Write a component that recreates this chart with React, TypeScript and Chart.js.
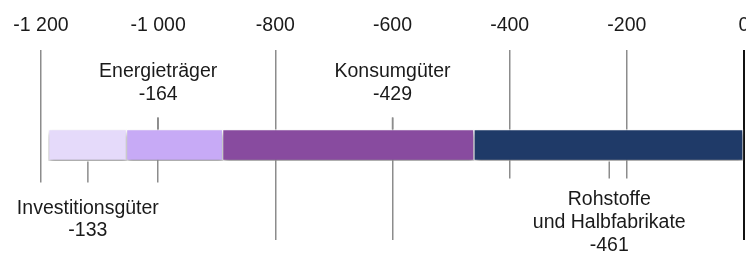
import React, { useEffect, useRef } from "react";
import { Chart, registerables } from "chart.js";

Chart.register(...registerables);

const categories = ["Import"];
const seriesNames = ["Rohstoffe|und Halbfabrikate", "Konsumgüter", "Energieträger", "Investitionsgüter"];
const seriesValues = [-461, -429, -164, -133];
const seriesColors = ["#1F3A68", "#884B9F", "#C7AAF6", "#E5DAFA"];
const labelAnchors = [-230, -600, -1000, -1120];
const labelSides = ["below", "above", "above", "below"];
const axisMin = -1200;
const axisMax = 0;
const axisStep = 200;

const FONT = "'Liberation Sans', Arial, Helvetica, sans-serif";
const FONT_SIZE = 19.5;

function fmt(v: number): string {
  const s = Math.abs(v).toString().replace(/\B(?=(\d{3})+(?!\d))/g, " ");
  return (v < 0 ? "-" : "") + s;
}

const shadowPlugin = {
  id: "barShadow",
  beforeDatasetsDraw(chart: any) {
    const ctx = chart.ctx;
    ctx.save();
    ctx.shadowColor = "rgba(0,0,0,0.45)";
    ctx.shadowBlur = 5;
    ctx.shadowOffsetX = 1;
    ctx.shadowOffsetY = 4;
  },
  afterDatasetsDraw(chart: any) {
    chart.ctx.restore();
  },
};

const labelPlugin = {
  id: "segLabels",
  afterDraw(chart: any) {
    const ctx = chart.ctx;
    const xs = chart.scales.x;
    const area = chart.chartArea;
    ctx.save();
    ctx.font = `${FONT_SIZE}px ${FONT}`;
    ctx.textAlign = "center";
    ctx.textBaseline = "middle";
    const lh = 23;
    seriesNames.forEach((name, i) => {
      const el = chart.getDatasetMeta(i).data[0];
      if (!el) return;
      const top = el.y - el.height / 2;
      const bottom = el.y + el.height / 2;
      const lines = name.split("|").concat([fmt(seriesValues[i])]);
      const cx = xs.getPixelForValue(labelAnchors[i]);
      const w = Math.max(...lines.map((l) => ctx.measureText(l).width)) + 56;
      const above = labelSides[i] === "above";
      ctx.fillStyle = "#ffffff";
      let boxTop: number, boxBottom: number, firstY: number, leadFrom: number, leadTo: number;
      if (above) {
        boxTop = area.top - 2;
        boxBottom = top - 12;
        firstY = top - 35 - (lines.length - 1) * lh;
        leadFrom = boxBottom;
        leadTo = top;
      } else {
        const gap = lines.length > 2 ? 18 : 22;
        boxTop = bottom + gap;
        boxBottom = area.bottom + 2;
        firstY = lines.length > 2 ? bottom + 39 : bottom + 48;
        leadFrom = bottom + 1;
        leadTo = boxTop;
      }
      ctx.fillRect(cx - w / 2, boxTop, w, boxBottom - boxTop);
      ctx.strokeStyle = "#8c8c8c";
      ctx.lineWidth = 1.5;
      ctx.beginPath();
      ctx.moveTo(cx, leadFrom);
      ctx.lineTo(cx, leadTo);
      ctx.stroke();
      ctx.fillStyle = "#1a1a1a";
      const step = above ? lh : lines.length > 2 ? lh : 22;
      lines.forEach((l, k) => ctx.fillText(l, cx, firstY + k * step));
    });
    ctx.restore();
  },
};

export default function App() {
  const ref = useRef<HTMLCanvasElement | null>(null);
  useEffect(() => {
    if (!ref.current) return;
    const chart = new Chart(ref.current, {
      type: "bar",
      data: {
        labels: categories,
        datasets: seriesNames.map((n, i) => ({
          label: n.replace("|", " "),
          data: [seriesValues[i]],
          backgroundColor: seriesColors[i],
          borderColor: "rgba(255,255,255,0.95)",
          borderWidth: { left: 1, right: 1, top: 1, bottom: 1 },
          borderSkipped: false,
          barThickness: 31,
        })),
      },
      options: {
        indexAxis: "y",
        animation: false,
        responsive: true,
        maintainAspectRatio: false,
        layout: { padding: { top: 0, bottom: 13, left: 41, right: 2 } },
        plugins: { legend: { display: false }, tooltip: { enabled: false } },
        scales: {
          x: {
            position: "top",
            stacked: true,
            min: axisMin,
            max: axisMax,
            border: { display: false },
            grid: {
              drawTicks: false,
              color: (c: any) => (c.tick && c.tick.value === 0 ? "#111111" : "#8c8c8c"),
              lineWidth: (c: any) => (c.tick && c.tick.value === 0 ? 2 : 1.5),
            },
            ticks: {
              stepSize: axisStep,
              padding: 13,
              color: "#1a1a1a",
              font: { family: FONT, size: FONT_SIZE },
              maxRotation: 0,
              autoSkip: false,
              callback: (v: any) => fmt(Number(v)),
            },
            afterFit: (s: any) => {
              s.height = 50;
              s.paddingLeft = 0;
              s.paddingRight = 0;
            },
          },
          y: { stacked: true, display: false },
        },
      },
      plugins: [shadowPlugin, labelPlugin],
    } as any);
    return () => chart.destroy();
  }, []);
  return (
    <div style={{ position: "fixed", left: 0, top: 0, width: 746, height: 253, background: "#fff" }}>
      <canvas ref={ref} />
    </div>
  );
}
